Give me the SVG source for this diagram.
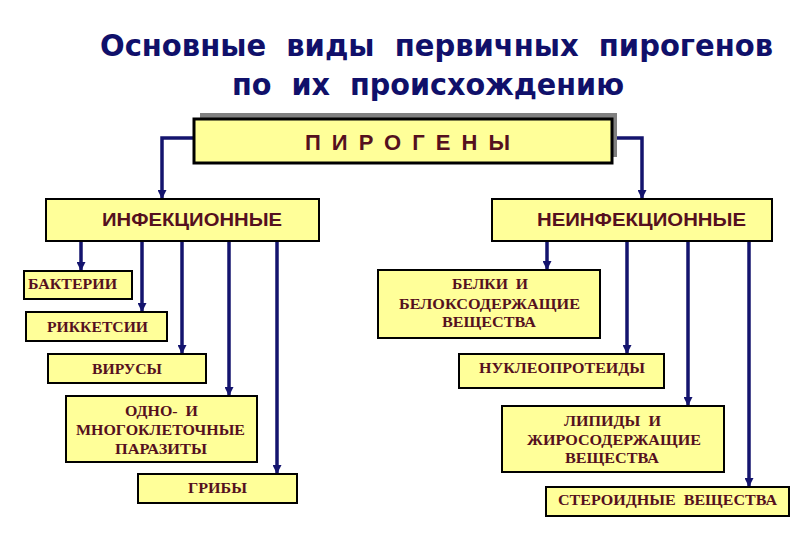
<svg xmlns="http://www.w3.org/2000/svg" width="810" height="540" viewBox="0 0 810 540">
<style>
text{white-space:pre}
.title{font-family:"DejaVu Sans Condensed","DejaVu Sans","Liberation Sans",sans-serif;font-stretch:condensed;font-weight:bold;font-size:31px;fill:#10106a}
.box{fill:#ffff99;stroke:#000;stroke-width:2}
.cat{font-family:"Liberation Sans",Arial,sans-serif;font-weight:bold;font-size:18px;fill:#55101e}
.big{font-size:22px}
.lbl{font-family:"Liberation Serif","Times New Roman",serif;font-weight:bold;font-size:15px;fill:#55101e;text-anchor:middle}
.conn{fill:none;stroke:#14146e;stroke-width:3.5;marker-end:url(#arr)}
</style>
<defs>
<marker id="arr" markerUnits="userSpaceOnUse" markerWidth="10" markerHeight="9" refX="9" refY="4.5" orient="auto">
<path d="M0,0 L9,4.5 L0,9 z" fill="#14146e"/>
</marker>
</defs>
<rect width="810" height="540" fill="#fff"/>
<g id="title">
<text class="title" x="100" y="56" textLength="673" lengthAdjust="spacingAndGlyphs">Основные  виды  первичных  пирогенов</text>
<text class="title" x="232" y="95" textLength="392" lengthAdjust="spacingAndGlyphs">по  их  происхождению</text>
</g>
<g id="connectors">
<path class="conn" d="M194,138 H162 V199"/>
<path class="conn" d="M612,138 H642 V199"/>
<path class="conn" d="M81,241 V271"/>
<path class="conn" d="M142,241 V312"/>
<path class="conn" d="M182,241 V354"/>
<path class="conn" d="M229,241 V396"/>
<path class="conn" d="M277,241 V474"/>
<path class="conn" d="M547,241 V270"/>
<path class="conn" d="M627,241 V354"/>
<path class="conn" d="M688,241 V406"/>
<path class="conn" d="M749,241 V487"/>
</g>
<g id="pyrogens">
<rect x="200" y="113" width="417" height="44" fill="#808080"/>
<rect x="194" y="119" width="418" height="44" fill="#ffff99" stroke="#000" stroke-width="3"/>
<text class="cat big" x="305" y="150" textLength="205" lengthAdjust="spacing">ПИРОГЕНЫ</text>
</g>
<g id="infectious">
<rect class="box" x="46" y="199" width="273" height="42"/>
<text class="cat" x="102" y="226" textLength="180" lengthAdjust="spacingAndGlyphs">ИНФЕКЦИОННЫЕ</text>
</g>
<g id="noninfectious">
<rect class="box" x="492" y="199" width="280" height="42"/>
<text class="cat" x="537" y="226" textLength="209" lengthAdjust="spacingAndGlyphs">НЕИНФЕКЦИОННЫЕ</text>
</g>
<g id="bacteria">
<rect class="box" x="24" y="271" width="108" height="28"/>
<text class="lbl" x="72.5" y="289" textLength="89" lengthAdjust="spacingAndGlyphs">БАКТЕРИИ</text>
</g>
<g id="rickettsia">
<rect class="box" x="26" y="312" width="141" height="29"/>
<text class="lbl" x="97.5" y="332" textLength="101" lengthAdjust="spacingAndGlyphs">РИККЕТСИИ</text>
</g>
<g id="viruses">
<rect class="box" x="48" y="354" width="158" height="29"/>
<text class="lbl" x="127" y="374" textLength="70" lengthAdjust="spacingAndGlyphs">ВИРУСЫ</text>
</g>
<g id="parasites">
<rect class="box" x="66" y="396" width="191" height="66"/>
<text class="lbl" x="161.5" y="416" textLength="73" lengthAdjust="spacingAndGlyphs">ОДНО-  И</text>
<text class="lbl" x="160.5" y="435" textLength="169" lengthAdjust="spacingAndGlyphs">МНОГОКЛЕТОЧНЫЕ</text>
<text class="lbl" x="161" y="454" textLength="92" lengthAdjust="spacingAndGlyphs">ПАРАЗИТЫ</text>
</g>
<g id="fungi">
<rect class="box" x="138" y="474" width="159" height="29"/>
<text class="lbl" x="217.5" y="493" textLength="59" lengthAdjust="spacingAndGlyphs">ГРИБЫ</text>
</g>
<g id="proteins">
<rect class="box" x="378" y="270" width="222" height="68"/>
<text class="lbl" x="490" y="289" textLength="76" lengthAdjust="spacingAndGlyphs">БЕЛКИ  И</text>
<text class="lbl" x="489.5" y="309" textLength="181" lengthAdjust="spacingAndGlyphs">БЕЛОКСОДЕРЖАЩИЕ</text>
<text class="lbl" x="489" y="327" textLength="94" lengthAdjust="spacingAndGlyphs">ВЕЩЕСТВА</text>
</g>
<g id="nucleoproteins">
<rect class="box" x="459" y="354" width="205" height="34"/>
<text class="lbl" x="562" y="373" textLength="166" lengthAdjust="spacingAndGlyphs">НУКЛЕОПРОТЕИДЫ</text>
</g>
<g id="lipids">
<rect class="box" x="502" y="406" width="222" height="66"/>
<text class="lbl" x="612.5" y="426" textLength="97" lengthAdjust="spacingAndGlyphs">ЛИПИДЫ  И</text>
<text class="lbl" x="614" y="445" textLength="174" lengthAdjust="spacingAndGlyphs">ЖИРОСОДЕРЖАЩИЕ</text>
<text class="lbl" x="612" y="463" textLength="94" lengthAdjust="spacingAndGlyphs">ВЕЩЕСТВА</text>
</g>
<g id="steroids">
<rect class="box" x="546" y="487" width="243" height="29"/>
<text class="lbl" x="667.5" y="505" textLength="219" lengthAdjust="spacingAndGlyphs">СТЕРОИДНЫЕ  ВЕЩЕСТВА</text>
</g>
</svg>
